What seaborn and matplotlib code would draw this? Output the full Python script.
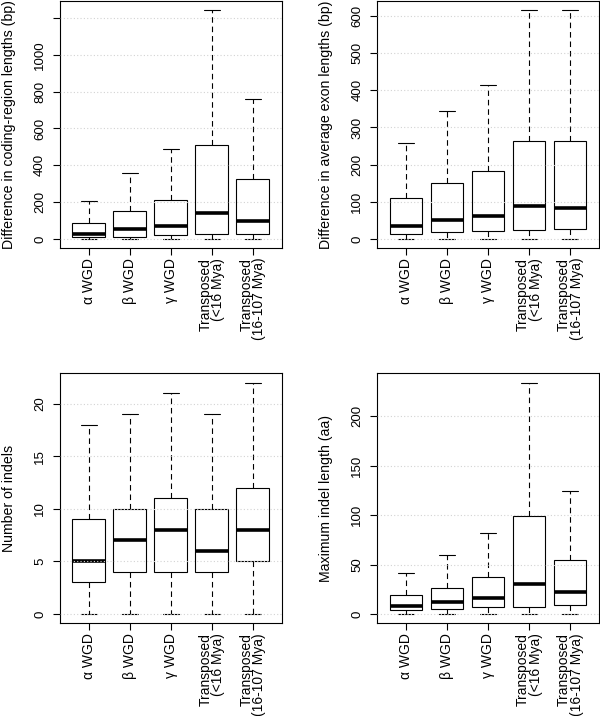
import numpy as np
import pandas as pd
import matplotlib
matplotlib.use("Agg")
import matplotlib.pyplot as plt
import seaborn as sns

GROUPS = ["α WGD", "β WGD", "γ WGD", "Transposed\n(<16 Mya)", "Transposed\n(16-107 Mya)"]

# five-number summaries: lower whisker, Q1, median, Q3, upper whisker
CODING_LEN = [[0, 8, 27, 85, 207], [0, 12, 54, 150, 358], [0, 20, 72, 212, 488],
              [0, 27, 139, 512, 1243], [0, 27, 97, 323, 762]]
EXON_LEN = [[0, 12, 36, 109, 257], [0, 18, 50, 150, 345], [0, 22, 62, 183, 415],
            [0, 25, 88, 264, 616], [0, 27, 82, 263, 616]]
N_INDELS = [[0, 3, 5, 9, 18], [0, 4, 7, 10, 19], [0, 4, 8, 11, 21],
            [0, 4, 6, 10, 19], [0, 5, 8, 12, 22]]
MAX_INDEL = [[0, 4, 8, 19, 41], [0, 5, 12, 26.5, 60], [0, 7, 16, 37, 82],
             [0, 7.5, 30, 99, 234], [0, 9, 22, 55, 124]]

YLABELS = ["Difference in coding-region lengths (bp)", "Difference in average exon lengths (bp)",
           "Number of indels", "Maximum indel length (aa)"]
YTICKS = [[0, 200, 400, 600, 800, 1000, 1200], [0, 100, 200, 300, 400, 500, 600],
          [0, 5, 10, 15, 20], [0, 50, 100, 150, 200]]
YTICKLABELS = [["0", "200", "400", "600", "800", "1000", ""], ["0", "100", "200", "300", "400", "500", "600"],
               ["0", "5", "10", "15", "20"], ["0", "50", "100", "150", "200"]]

sns.set_style("ticks", {"axes.edgecolor": "black", "xtick.color": "black", "ytick.color": "black",
                        "text.color": "black", "axes.labelcolor": "black"})
plt.rcParams['font.family'] = ['Liberation Sans', 'DejaVu Sans']
plt.rcParams['axes.linewidth'] = 0.8

fig = plt.figure(figsize=(6, 7.16), dpi=100)
rects = [[0.100, 0.6536, 0.3692, 0.345], [0.6288, 0.6536, 0.3692, 0.345],
         [0.100, 0.1295, 0.3692, 0.349], [0.6288, 0.1295, 0.3692, 0.349]]
panels = [CODING_LEN, EXON_LEN, N_INDELS, MAX_INDEL]

for rect, stats, ylab, yt, ytl in zip(rects, panels, YLABELS, YTICKS, YTICKLABELS):
    ax = fig.add_axes(rect)
    df = pd.DataFrame({"group": np.repeat(GROUPS, 5), "value": np.ravel(stats)})
    sns.boxplot(data=df, x="group", y="value", order=GROUPS, whis=(0, 100), width=0.8,
                color="white", linecolor="black", linewidth=0.8, ax=ax,
                medianprops=dict(linewidth=2.6),
                whiskerprops=dict(linestyle=(0, (5, 3.5))))
    lo, hi = df["value"].min(), df["value"].max()
    ext = 0.04 * (hi - lo)
    ax.set_ylim(lo - ext, hi + ext)
    ax.set_xlim(-0.7, 4.7)
    ax.set_yticks(yt, ytl, rotation=90, va='center', fontsize=9.5)
    ax.set_xticks(range(len(GROUPS)))
    ax.set_xticklabels(GROUPS, rotation=90, ha='center', va='top', multialignment='right',
                       fontsize=10, linespacing=0.9)
    ax.tick_params(axis='y', length=5, width=0.8, pad=5)
    ax.tick_params(axis='x', length=5, width=0.8, pad=2)
    ax.grid(axis='y', color='lightgray', linestyle=(0, (1, 2)), linewidth=0.8)
    ax.set_axisbelow(False)
    ax.set_xlabel("")
    ax.set_ylabel(ylab, fontsize=10.2)
    ax.yaxis.set_label_coords(-0.2, 0.5)

fig.savefig("out.png", dpi=100)
